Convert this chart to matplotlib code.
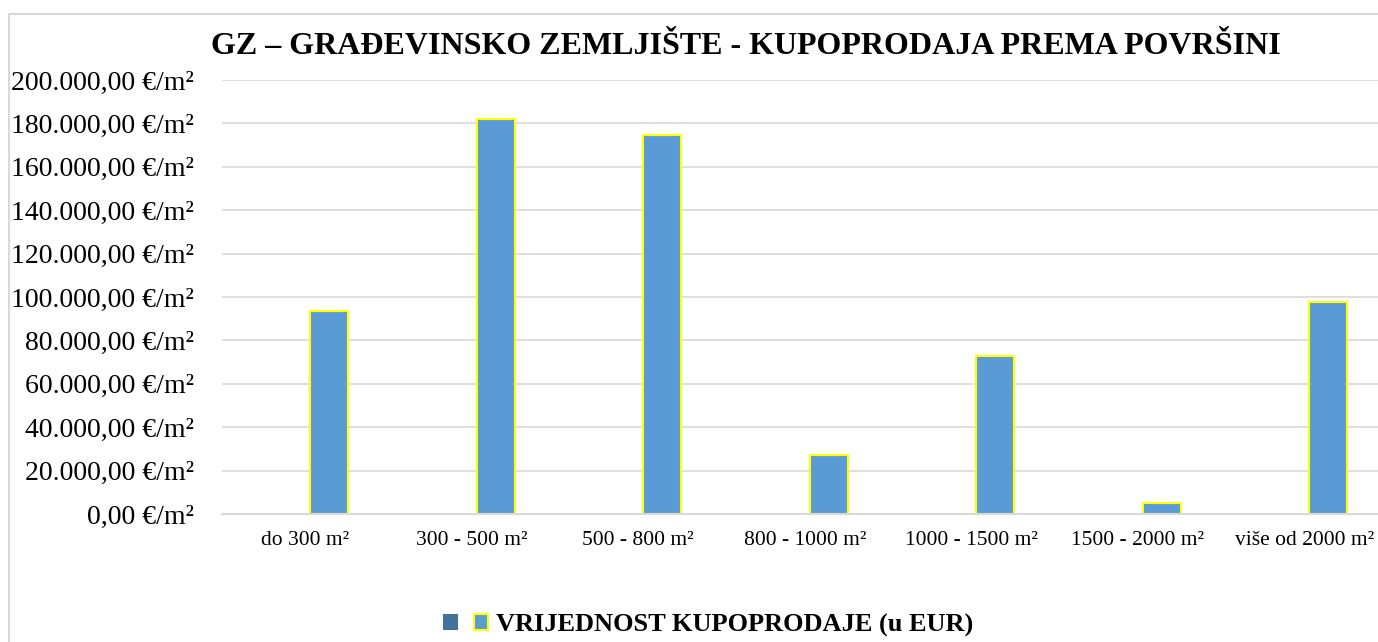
import numpy as np
import matplotlib
matplotlib.use('Agg')
import matplotlib.pyplot as plt
from matplotlib.patches import Rectangle
from matplotlib.ticker import FuncFormatter

plt.rcParams['font.family'] = ['Liberation Serif', 'DejaVu Serif']

# podaci
kategorije = ['do 300 m²', '300 - 500 m²', '500 - 800 m²', '800 - 1000 m²',
              '1000 - 1500 m²', '1500 - 2000 m²', 'više od 2000 m²']
prazna_serija = [0, 0, 0, 0, 0, 0, 0]
vrijednosti = [93500, 182000, 174500, 27200, 72800, 5100, 97700]
naziv_serije = 'VRIJEDNOST KUPOPRODAJE (u EUR)'
naslov = 'GZ – GRAĐEVINSKO ZEMLJIŠTE - KUPOPRODAJA PREMA POVRŠINI'

W, H = 1378, 642
fig = plt.figure(figsize=(W / 100, H / 100), dpi=100)

# okvir grafikona (desni i donji rub izvan slike)
fig.patches.append(Rectangle((9 / W, -0.1), 1.2, (H - 14) / H + 0.1,
                             transform=fig.transFigure, fill=False,
                             ec='#d9d9d9', lw=1.5))

ax = fig.add_axes([222 / W, 128 / H, 1165.5 / W, 434 / H])
x = np.arange(len(kategorije))
sirina = 0.228
b1 = ax.bar(x - 0.144, prazna_serija, sirina, color='#41719c')
b2 = ax.bar(x + 0.144, vrijednosti, sirina, color='#5b9bd5',
            edgecolor='#ffff00', linewidth=1.5)

ax.set_xlim(-0.5, len(kategorije) - 0.5)
ax.set_ylim(0, 200000)
ax.set_yticks(np.arange(0, 200001, 20000))
ax.yaxis.set_major_formatter(FuncFormatter(
    lambda v, p: '{:,.2f}'.format(v).replace(',', 'X').replace('.', ',').replace('X', '.') + ' €/m²'))
ax.set_xticks(x)
ax.set_xticklabels(kategorije, fontsize=15.5)
ax.tick_params(axis='y', length=0, pad=20, labelsize=20)
ax.tick_params(axis='x', length=0, pad=12)
ax.grid(axis='y', color='#d9d9d9', lw=1.2)
ax.set_axisbelow(True)
for s in ['left', 'right', 'top']:
    ax.spines[s].set_visible(False)
ax.spines['bottom'].set_color('#d9d9d9')
ax.spines['bottom'].set_linewidth(1.5)

fig.text(746 / W, 1 - 47 / H, naslov, ha='center', va='center',
         fontsize=23, fontweight='bold')

leg = fig.legend([b1, b2], ['', naziv_serije], loc='center',
                 bbox_to_anchor=(708 / W, 1 - 625 / H), ncol=2, frameon=False,
                 handlelength=0.55, handleheight=0.55, handletextpad=0.27,
                 columnspacing=0.34, prop={'size': 19, 'weight': 'bold'})

fig.savefig('out.png', dpi=100)
